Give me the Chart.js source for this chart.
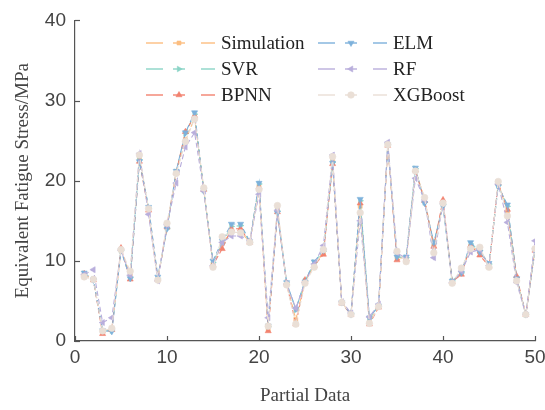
<!DOCTYPE html>
<html>
<head>
<meta charset="utf-8">
<script src="https://cdn.jsdelivr.net/npm/chart.js@4.4.1/dist/chart.umd.min.js"></script>
<style>
  html, body { margin: 0; padding: 0; background: #fff; }
  #wrap { width: 545px; height: 410px; }
</style>
</head>
<body>
<div id="wrap"><canvas id="chart" width="545" height="410"></canvas></div>
<script>
// данные
const idx = [1,2,3,4,5,6,7,8,9,10,11,12,13,14,15,16,17,18,19,20,21,22,23,24,25,
             26,27,28,29,30,31,32,33,34,35,36,37,38,39,40,41,42,43,44,45,46,47,48,49,50];

const simulation = [8.2,7.7,1.2,1.5,11.4,8.3,22.9,16.4,7.7,14.4,21.0,25.1,27.8,18.9,9.6,12.2,13.6,13.6,12.4,19.3,
                    1.5,16.5,7.2,2.7,7.4,9.5,11.0,22.5,4.8,3.3,16.8,2.4,4.3,24.5,10.5,10.2,21.3,17.8,11.8,17.3,
                    7.4,8.6,11.8,11.2,9.5,19.7,16.2,7.8,3.3,11.5];
const svr =        [8.4,7.7,1.3,1.3,11.3,7.9,22.6,16.6,7.8,14.0,21.1,25.9,28.3,18.8,9.8,12.2,14.3,14.4,12.3,19.6,
                    1.8,16.2,7.3,3.9,7.5,9.8,11.2,22.3,4.8,3.4,17.5,2.8,4.4,24.5,10.5,10.4,21.5,17.3,12.2,17.0,
                    7.5,8.5,12.1,11.3,9.6,19.4,16.8,7.9,3.3,11.4];
const bpnn =       [8.4,7.6,0.9,1.4,11.6,7.7,22.4,16.3,7.7,14.2,21.0,26.1,28.1,18.9,9.5,11.5,14.0,14.0,12.3,19.2,
                    1.25,16.1,7.2,2.1,7.6,9.4,10.8,22.1,4.7,3.3,17.2,2.1,4.2,24.4,10.1,10.2,21.3,17.5,11.8,17.6,
                    7.4,8.3,11.9,10.7,9.3,19.7,16.4,8.1,3.3,11.3];
const elm =        [8.5,7.6,1.3,1.2,11.3,7.8,22.4,16.7,8.0,14.0,21.2,26.0,28.5,18.8,10.0,12.5,14.6,14.6,12.4,19.7,
                    1.9,16.0,7.3,4.0,7.4,9.9,11.3,22.2,4.8,3.3,17.7,2.9,4.4,24.5,10.5,10.5,21.6,17.2,12.3,16.8,
                    7.5,8.5,12.3,11.1,9.7,19.3,17.0,7.8,3.3,11.3];
const rf =         [8.3,8.9,2.3,2.9,11.3,8.2,23.4,15.8,7.5,14.5,19.7,24.2,26.0,18.7,9.4,12.3,13.1,13.1,12.5,18.3,
                    2.9,16.3,7.1,4.1,7.3,9.6,11.9,23.2,4.9,3.5,15.0,3.0,4.6,24.8,11.0,10.3,20.3,17.6,10.4,17.2,
                    7.3,8.7,11.1,11.4,9.4,19.6,14.8,7.3,3.3,12.5];
const xgboost =    [8.0,7.7,1.25,1.6,11.4,8.7,23.2,16.5,7.6,14.7,20.9,24.9,27.7,19.1,9.2,13.0,13.6,13.5,12.3,18.9,
                    1.85,16.9,7.0,2.1,7.2,9.2,11.4,23.0,4.8,3.3,16.0,2.2,4.3,24.5,11.2,9.9,21.2,17.9,11.0,17.2,
                    7.2,9.1,11.5,11.7,9.2,19.9,15.6,7.5,3.3,11.5];

const xTicks = [0, 10, 20, 30, 40, 50];
const yTicks = [0, 10, 20, 30, 40];

const seriesNames = ['Simulation', 'SVR', 'BPNN', 'ELM', 'RF', 'XGBoost'];
const seriesData = [simulation, svr, bpnn, elm, rf, xgboost];
const colors = ['#FCBE80', '#8AD4C6', '#F2826F', '#7DB1DB', '#B9AEDC', '#EADFD6'];
const shapes = ['rect', 'triangle', 'triangle', 'triangle', 'triangle', 'circle'];
const rotations = [0, 90, 0, 180, 270, 0];
const radii = [2.8, 3.3, 3.5, 3.5, 3.5, 3.3];

const datasets = seriesNames.map((name, k) => ({
    label: name,
    data: idx.map((x, i) => ({ x: x, y: seriesData[k][i] })),
    borderColor: colors[k],
    backgroundColor: colors[k],
    borderWidth: 1.1,
    borderDash: [5, 3],
    pointStyle: shapes[k],
    pointRotation: rotations[k],
    pointRadius: radii[k],
    pointBorderWidth: 0.6,
    tension: 0,
    order: seriesNames.length - k
}));

// легенда в две колонки внутри графика
const legendPlugin = {
    id: 'customLegend',
    afterDatasetsDraw(chart) {
        const ctx = chart.ctx;
        const cols = [146, 318];
        const rows = [43, 69, 95];
        ctx.save();
        datasets.forEach((ds, k) => {
            const x0 = cols[Math.floor(k / 3)];
            const y = rows[k % 3];
            ctx.strokeStyle = ds.borderColor;
            ctx.lineWidth = 1.4;
            ctx.setLineDash([]);
            [[0, 17], [27, 39], [55, 69]].forEach(seg => {
                ctx.beginPath();
                ctx.moveTo(x0 + seg[0], y);
                ctx.lineTo(x0 + seg[1], y);
                ctx.stroke();
            });
            ctx.fillStyle = ds.backgroundColor;
            ctx.lineWidth = 0.6;
            Chart.helpers.drawPoint(ctx, {
                pointStyle: ds.pointStyle,
                rotation: ds.pointRotation,
                radius: ds.pointRadius,
                borderWidth: 0.6
            }, x0 + 33, y);
            ctx.fillStyle = '#222';
            ctx.font = '19px "Liberation Serif", "Times New Roman", serif';
            ctx.textBaseline = 'middle';
            ctx.textAlign = 'left';
            ctx.fillText(ds.label, x0 + 75, y + 1);
        });
        ctx.restore();
    }
};

// короткие засечки внутрь области графика
const innerTicks = {
    id: 'innerTicks',
    afterDraw(chart) {
        const ctx = chart.ctx;
        const xs = chart.scales.x, ys = chart.scales.y;
        const area = chart.chartArea;
        ctx.save();
        ctx.strokeStyle = '#555';
        ctx.lineWidth = 1.2;
        xTicks.forEach(v => {
            const px = Math.round(xs.getPixelForValue(v)) + 0.5;
            ctx.beginPath();
            ctx.moveTo(px, area.bottom);
            ctx.lineTo(px, area.bottom - 5);
            ctx.stroke();
        });
        yTicks.forEach(v => {
            const py = Math.round(ys.getPixelForValue(v)) + 0.5;
            ctx.beginPath();
            ctx.moveTo(area.left, py);
            ctx.lineTo(area.left + 5, py);
            ctx.stroke();
        });
        ctx.restore();
    }
};

const tickFont = { family: '"Liberation Sans", Arial, sans-serif', size: 19 };
const titleFont = { family: '"Liberation Serif", "Times New Roman", serif', size: 19 };

new Chart(document.getElementById('chart'), {
    type: 'line',
    data: { datasets: datasets },
    options: {
        responsive: false,
        animation: false,
        layout: { padding: { top: 12, right: 0, left: 0, bottom: 0 } },
        plugins: { legend: { display: false }, tooltip: { enabled: false } },
        scales: {
            x: {
                type: 'linear',
                min: 0, max: 50,
                afterBuildTicks: (s) => { s.ticks = xTicks.map(v => ({ value: v })); },
                afterFit: (s) => { s.height = 69; s.paddingRight = 10; },
                grid: { display: false, drawTicks: false },
                border: { display: true, color: '#555', width: 1.2 },
                ticks: { color: '#444', font: tickFont, padding: 5, maxRotation: 0 },
                title: { display: true, text: 'Partial Data', color: '#444', font: titleFont, padding: { top: 10, bottom: 3 } }
            },
            y: {
                min: 0, max: 40,
                afterBuildTicks: (s) => { s.ticks = yTicks.map(v => ({ value: v })); },
                afterFit: (s) => { s.width = 75; },
                grid: { display: false, drawTicks: false },
                border: { display: true, color: '#555', width: 1.2 },
                ticks: { color: '#444', font: tickFont, padding: 9 },
                title: { display: true, text: 'Equivalent Fatigue Stress/MPa', color: '#444', font: titleFont, padding: { top: 12, bottom: 4 } }
            }
        }
    },
    plugins: [legendPlugin, innerTicks]
});
</script>
</body>
</html>
